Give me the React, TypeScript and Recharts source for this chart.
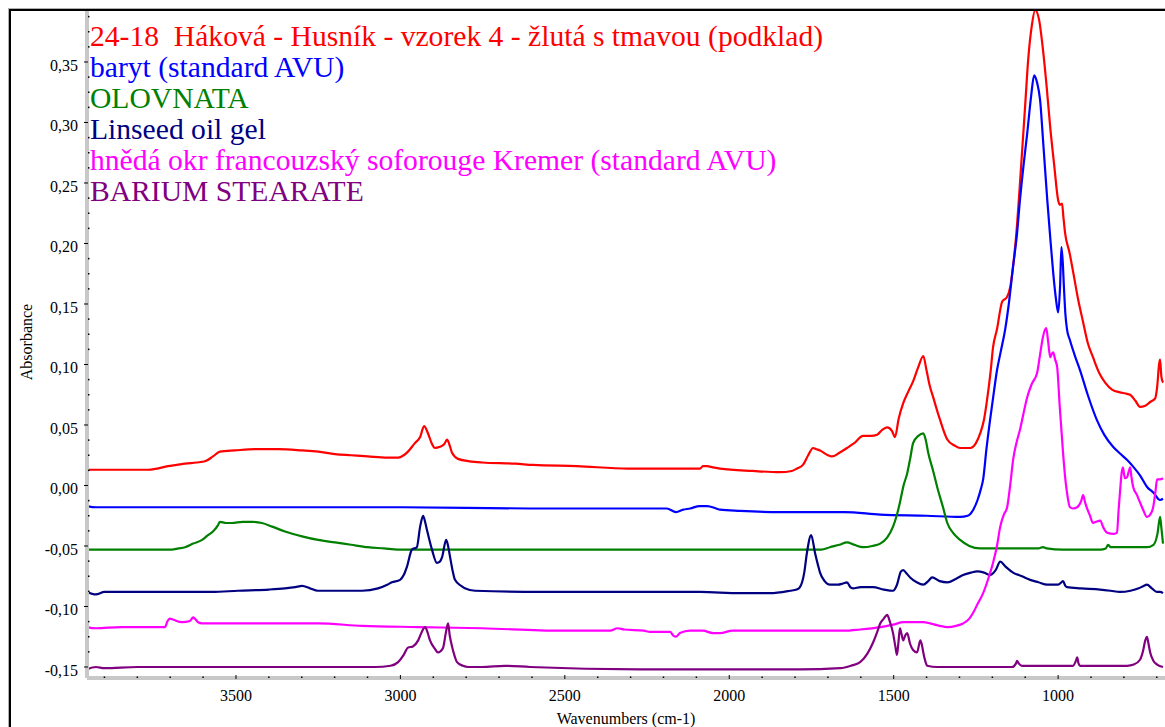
import React from "react";
import { LineChart, Line, XAxis, YAxis } from "recharts";

// [wavenumber (cm-1), absorbance]
const sample2418: [number, number][] = [
  [3953, 0.013], [3850, 0.013], [3768, 0.013], [3740, 0.014], [3707, 0.016], [3680, 0.017],
  [3655, 0.018], [3620, 0.019], [3594, 0.020], [3570, 0.024], [3549, 0.028], [3503, 0.029],
  [3442, 0.030], [3370, 0.030], [3299, 0.029], [3250, 0.028], [3199, 0.026], [3150, 0.025],
  [3099, 0.024], [3040, 0.023], [3007, 0.023], [2990, 0.025], [2977, 0.028], [2956, 0.035],
  [2940, 0.040], [2928, 0.049], [2916, 0.043], [2905, 0.035], [2895, 0.031], [2880, 0.032],
  [2867, 0.034], [2858, 0.038], [2850, 0.033], [2843, 0.027], [2825, 0.022], [2790, 0.020],
  [2752, 0.019], [2650, 0.018], [2597, 0.017], [2463, 0.016], [2308, 0.014], [2150, 0.014],
  [2089, 0.014], [2080, 0.016], [2067, 0.016], [2050, 0.015], [2028, 0.014], [1928, 0.012],
  [1846, 0.011], [1810, 0.012], [1794, 0.014], [1776, 0.017], [1760, 0.025], [1745, 0.031],
  [1735, 0.030], [1724, 0.029], [1700, 0.025], [1688, 0.024], [1665, 0.027], [1642, 0.031],
  [1620, 0.035], [1593, 0.041], [1570, 0.041], [1550, 0.042], [1535, 0.046], [1520, 0.048],
  [1505, 0.045], [1496, 0.040], [1485, 0.055], [1471, 0.068], [1455, 0.078], [1441, 0.086],
  [1425, 0.098], [1410, 0.107], [1400, 0.095], [1390, 0.082], [1380, 0.073], [1360, 0.055],
  [1337, 0.038], [1315, 0.033], [1298, 0.031], [1267, 0.031], [1250, 0.035], [1237, 0.043],
  [1225, 0.055], [1216, 0.071], [1205, 0.095], [1198, 0.114], [1186, 0.129], [1170, 0.152],
  [1155, 0.156], [1145, 0.165], [1137, 0.181], [1125, 0.215], [1116, 0.250], [1100, 0.315],
  [1091, 0.352], [1080, 0.380], [1070, 0.393], [1058, 0.385], [1046, 0.360], [1035, 0.330],
  [1024, 0.296], [1012, 0.265], [1000, 0.236], [995, 0.232], [988, 0.233], [984, 0.222],
  [979, 0.209], [965, 0.192], [954, 0.176], [940, 0.155], [924, 0.135], [910, 0.118],
  [894, 0.106], [875, 0.093], [857, 0.085], [835, 0.079], [812, 0.077], [795, 0.076],
  [781, 0.075], [765, 0.070], [751, 0.065], [735, 0.066], [720, 0.069], [705, 0.072],
  [699, 0.081], [693, 0.100], [690, 0.104], [686, 0.090], [681, 0.085],
];

const barytAVU: [number, number][] = [
  [3953, -0.017], [3926, -0.018], [3700, -0.018], [3400, -0.018], [3000, -0.018], [2600, -0.019],
  [2393, -0.019], [2241, -0.019], [2190, -0.019], [2162, -0.022], [2140, -0.020], [2119, -0.019],
  [2090, -0.017], [2067, -0.017], [2040, -0.019], [2028, -0.020], [1967, -0.021], [1846, -0.022],
  [1785, -0.022], [1650, -0.022], [1541, -0.024], [1400, -0.025], [1298, -0.026], [1275, -0.025],
  [1258, -0.020], [1245, -0.012], [1235, -0.003], [1228, 0.005], [1218, 0.030], [1207, 0.054],
  [1195, 0.078], [1186, 0.095], [1175, 0.110], [1161, 0.129], [1150, 0.150], [1137, 0.181],
  [1125, 0.208], [1116, 0.236], [1105, 0.265], [1094, 0.291], [1082, 0.322], [1073, 0.339],
  [1064, 0.333], [1055, 0.319], [1045, 0.282], [1033, 0.236], [1024, 0.205], [1015, 0.176],
  [1007, 0.155], [1000, 0.143], [994, 0.165], [990, 0.197], [986, 0.185], [982, 0.162],
  [978, 0.142], [973, 0.129], [964, 0.120], [950, 0.108], [933, 0.095], [910, 0.075],
  [882, 0.054], [860, 0.042], [833, 0.032], [810, 0.026], [790, 0.021], [770, 0.015],
  [750, 0.008], [730, -0.001], [710, -0.006], [690, -0.012], [681, -0.011],
];

const olovnata: [number, number][] = [
  [3953, -0.053], [3695, -0.053], [3675, -0.052], [3655, -0.051], [3630, -0.048], [3603, -0.045],
  [3585, -0.041], [3570, -0.038], [3555, -0.033], [3549, -0.030], [3530, -0.031], [3512, -0.031],
  [3480, -0.030], [3451, -0.030], [3421, -0.031], [3390, -0.034], [3351, -0.038], [3299, -0.042],
  [3250, -0.045], [3199, -0.047], [3150, -0.049], [3099, -0.051], [3050, -0.052], [3007, -0.053],
  [1846, -0.053], [1720, -0.053], [1694, -0.051], [1665, -0.049], [1642, -0.047], [1620, -0.049],
  [1593, -0.051], [1565, -0.050], [1541, -0.048], [1520, -0.043], [1502, -0.034], [1490, -0.024],
  [1481, -0.014], [1470, 0.000], [1459, 0.010], [1450, 0.022], [1441, 0.035], [1425, 0.041],
  [1410, 0.043], [1402, 0.037], [1395, 0.027], [1380, 0.012], [1368, -0.001], [1350, -0.018],
  [1337, -0.031], [1320, -0.039], [1298, -0.045], [1270, -0.050], [1237, -0.052], [1137, -0.052],
  [1060, -0.052], [1046, -0.051], [1035, -0.052], [985, -0.053], [872, -0.053], [855, -0.052],
  [848, -0.049], [840, -0.051], [760, -0.051], [730, -0.051], [710, -0.049], [698, -0.040],
  [690, -0.026], [686, -0.035], [681, -0.048],
];

const linseedOilGel: [number, number][] = [
  [3953, -0.088], [3926, -0.090], [3900, -0.088], [3573, -0.088], [3494, -0.087], [3400, -0.086],
  [3351, -0.085], [3320, -0.084], [3299, -0.083], [3275, -0.085], [3251, -0.087], [3117, -0.087],
  [3068, -0.085], [3040, -0.082], [3026, -0.080], [3001, -0.078], [2990, -0.074], [2980, -0.067],
  [2965, -0.053], [2950, -0.051], [2940, -0.034], [2931, -0.025], [2925, -0.030], [2919, -0.037],
  [2904, -0.053], [2889, -0.064], [2880, -0.063], [2873, -0.059], [2861, -0.045], [2855, -0.050],
  [2849, -0.059], [2840, -0.072], [2834, -0.078], [2815, -0.083], [2804, -0.085], [2773, -0.087],
  [2575, -0.088], [2089, -0.088], [1967, -0.089], [1876, -0.089], [1815, -0.087], [1795, -0.086],
  [1785, -0.084], [1772, -0.072], [1764, -0.056], [1751, -0.041], [1739, -0.056], [1730, -0.066],
  [1724, -0.072], [1710, -0.079], [1694, -0.082], [1670, -0.082], [1654, -0.081], [1642, -0.080],
  [1632, -0.084], [1624, -0.085], [1600, -0.084], [1563, -0.084], [1530, -0.086], [1502, -0.087],
  [1490, -0.082], [1478, -0.071], [1471, -0.070], [1460, -0.073], [1450, -0.076], [1430, -0.080],
  [1410, -0.082], [1395, -0.079], [1383, -0.076], [1360, -0.079], [1337, -0.080], [1310, -0.077],
  [1289, -0.074], [1265, -0.072], [1246, -0.071], [1225, -0.072], [1207, -0.074], [1190, -0.070],
  [1176, -0.063], [1160, -0.067], [1137, -0.072], [1110, -0.075], [1085, -0.078], [1060, -0.080],
  [1033, -0.082], [1000, -0.082], [990, -0.080], [985, -0.079], [978, -0.083], [973, -0.084],
  [930, -0.085], [872, -0.086], [840, -0.087], [812, -0.088], [780, -0.087], [755, -0.085],
  [740, -0.083], [730, -0.082], [715, -0.085], [700, -0.088], [690, -0.088], [681, -0.089],
];

const hnedaOkr: [number, number][] = [
  [3953, -0.117], [3926, -0.118], [3850, -0.117], [3716, -0.117], [3708, -0.112], [3701, -0.110],
  [3690, -0.111], [3664, -0.113], [3640, -0.112], [3630, -0.109], [3625, -0.110], [3615, -0.113],
  [3603, -0.114], [3555, -0.114], [3403, -0.114], [3251, -0.114], [3117, -0.116], [2946, -0.117],
  [2752, -0.118], [2515, -0.120], [2362, -0.120], [2340, -0.118], [2320, -0.119], [2260, -0.120],
  [2241, -0.121], [2180, -0.121], [2170, -0.124], [2162, -0.125], [2150, -0.122], [2119, -0.120],
  [2080, -0.120], [2050, -0.122], [2028, -0.122], [1990, -0.120], [1967, -0.120], [1785, -0.120],
  [1650, -0.120], [1602, -0.119], [1540, -0.117], [1502, -0.115], [1470, -0.113], [1441, -0.113],
  [1410, -0.113], [1389, -0.114], [1360, -0.116], [1337, -0.117], [1310, -0.116], [1289, -0.114],
  [1270, -0.110], [1258, -0.105], [1245, -0.098], [1228, -0.089], [1210, -0.075], [1198, -0.064],
  [1186, -0.050], [1176, -0.034], [1165, -0.024], [1155, -0.018], [1145, 0.002], [1137, 0.021],
  [1126, 0.036], [1116, 0.046], [1105, 0.060], [1094, 0.073], [1080, 0.084], [1064, 0.093],
  [1055, 0.108], [1046, 0.123], [1036, 0.130], [1030, 0.118], [1024, 0.106], [1019, 0.109],
  [1015, 0.110], [1009, 0.104], [1003, 0.098], [995, 0.065], [985, 0.027], [978, 0.005],
  [973, -0.006], [964, -0.018], [955, -0.019], [942, -0.018], [930, -0.013], [924, -0.008],
  [918, -0.014], [912, -0.019], [903, -0.025], [894, -0.031], [885, -0.030], [872, -0.029],
  [862, -0.035], [851, -0.039], [830, -0.040], [821, -0.039], [816, -0.020], [812, -0.006],
  [807, 0.010], [803, 0.015], [797, 0.006], [790, 0.007], [785, 0.012], [781, 0.015],
  [777, 0.007], [772, -0.001], [760, -0.008], [751, -0.014], [740, -0.021], [730, -0.026],
  [720, -0.024], [711, -0.018], [704, -0.005], [699, 0.005], [690, 0.005], [681, 0.006],
];

const bariumStearate: [number, number][] = [
  [3953, -0.152], [3926, -0.150], [3900, -0.151], [3800, -0.150], [3077, -0.150], [3030, -0.149],
  [3007, -0.146], [2990, -0.140], [2977, -0.134], [2962, -0.133], [2946, -0.128], [2935, -0.121],
  [2925, -0.117], [2918, -0.121], [2910, -0.128], [2895, -0.135], [2886, -0.138], [2878, -0.137],
  [2870, -0.134], [2862, -0.122], [2855, -0.114], [2850, -0.124], [2843, -0.133], [2835, -0.141],
  [2828, -0.146], [2810, -0.149], [2794, -0.150], [2752, -0.150], [2682, -0.149], [2606, -0.150],
  [2271, -0.152], [1785, -0.152], [1663, -0.151], [1630, -0.149], [1602, -0.146], [1580, -0.139],
  [1563, -0.130], [1550, -0.121], [1541, -0.114], [1530, -0.110], [1520, -0.107], [1511, -0.113],
  [1502, -0.122], [1495, -0.133], [1490, -0.140], [1485, -0.128], [1481, -0.118], [1476, -0.123],
  [1471, -0.128], [1465, -0.124], [1459, -0.122], [1450, -0.131], [1441, -0.136], [1429, -0.138],
  [1419, -0.128], [1414, -0.132], [1410, -0.138], [1404, -0.145], [1398, -0.149], [1368, -0.150],
  [1140, -0.150], [1128, -0.147], [1125, -0.145], [1120, -0.147], [1110, -0.149], [955, -0.149],
  [946, -0.145], [942, -0.142], [938, -0.147], [933, -0.149], [790, -0.149], [770, -0.148],
  [751, -0.144], [742, -0.137], [735, -0.128], [730, -0.125], [725, -0.131], [720, -0.138],
  [710, -0.145], [699, -0.148], [681, -0.150],
];

const seriesNames = [
  "24-18  Háková - Husník - vzorek 4 - žlutá s tmavou (podklad)",
  "baryt (standard AVU)",
  "OLOVNATA",
  "Linseed oil gel",
  "hnědá okr francouzský soforouge Kremer (standard AVU)",
  "BARIUM STEARATE",
];
const seriesData = [sample2418, barytAVU, olovnata, linseedOilGel, hnedaOkr, bariumStearate];
const seriesColors = ["#ff0000", "#0000ff", "#008000", "#000080", "#ff00ff", "#800080"];

const xMajorTicks = [3500, 3000, 2500, 2000, 1500, 1000];
const xMinorTicks: number[] = [];
for (let w = 700; w <= 3900; w += 100) xMinorTicks.push(w);
const yMajorTicks = [-0.15, -0.1, -0.05, 0, 0.05, 0.1, 0.15, 0.2, 0.25, 0.3, 0.35];
const yAllTicks: number[] = [];
for (let i = -12; i <= 31; i++) yAllTicks.push(Math.round(i * 125) / 10000);

const xDomain = [675, 3953];
const yDomain = [-0.1591, 0.3938];

const FONT = "'Liberation Serif', 'Times New Roman', serif";

const fmtY = (v: number) => v.toFixed(2).replace(".", ",");

const XTick = (props: any) => {
  const { x, y, payload } = props;
  const v = payload.value;
  const major = xMajorTicks.includes(v);
  if (major) {
    return (
      <g>
        <line x1={x} x2={x} y1={y - 3} y2={y + 1} stroke="#000" strokeWidth={1} />
        <text
          x={x}
          y={y + 23}
          textAnchor="middle"
          fontFamily={FONT}
          style={{ fontFamily: FONT }}
          fontSize={16}
          fill="#000"
        >
          {v}
        </text>
      </g>
    );
  }
  return <rect x={x - 0.75} y={y - 1.5} width={1.5} height={1.5} fill="#000" />;
};

const YTick = (props: any) => {
  const { x, y, payload } = props;
  const v = payload.value;
  const major = yMajorTicks.some((m) => Math.abs(m - v) < 1e-6);
  if (major) {
    return (
      <g>
        <line x1={x - 3} x2={x + 1} y1={y} y2={y} stroke="#000" strokeWidth={1} />
        <text
          x={x - 9}
          y={y + 9}
          textAnchor="end"
          fontFamily={FONT}
          style={{ fontFamily: FONT }}
          fontSize={16}
          fill="#000"
        >
          {fmtY(v)}
        </text>
      </g>
    );
  }
  return <rect x={x + 1} y={y - 0.75} width={1.5} height={1.5} fill="#000" />;
};

export default function App() {
  return (
    <div
      style={{
        position: "fixed",
        left: 0,
        top: 0,
        width: 1165,
        height: 727,
        overflow: "hidden",
        background: "#fff",
        fontFamily: FONT,
      }}
    >
      <LineChart
        width={1165}
        height={727}
        margin={{ top: 9, right: 0, bottom: 0, left: 0 }}
        style={{ fontFamily: FONT }}
      >
        <XAxis
          type="number"
          dataKey="w"
          domain={xDomain}
          reversed
          allowDataOverflow
          ticks={xMinorTicks}
          interval={0}
          height={49}
          tickLine={false}
          tickSize={0}
          tickMargin={0}
          axisLine={{ stroke: "#c8c8c8", strokeWidth: 4 }}
          tick={<XTick />}
        />
        <YAxis
          type="number"
          domain={yDomain}
          allowDataOverflow
          ticks={yAllTicks}
          interval={0}
          width={87}
          tickLine={false}
          tickSize={0}
          tickMargin={0}
          axisLine={{ stroke: "#c8c8c8", strokeWidth: 4 }}
          tick={<YTick />}
        />
        {seriesData.map((d, i) => (
          <Line
            key={seriesNames[i]}
            data={d.map(([w, a]) => ({ w, a }))}
            dataKey="a"
            type="monotoneX"
            stroke={seriesColors[i]}
            strokeWidth={2.2}
            dot={false}
            isAnimationActive={false}
          />
        ))}
      </LineChart>
      <svg
        width={1165}
        height={727}
        style={{ position: "absolute", left: 0, top: 0, pointerEvents: "none" }}
      >
        <rect x={8} y={8} width={1157} height={1} fill="#b0b0b0" />
        <rect x={8} y={8} width={1} height={719} fill="#b0b0b0" />
        <rect x={9} y={9} width={1156} height={2} fill="#000" />
        <rect x={9} y={9} width={2} height={718} fill="#000" />
        {seriesNames.map((n, i) => (
          <text
            key={n}
            x={90}
            y={46 + i * 31}
            fontFamily={FONT}
            fontSize={29.6}
            fill={seriesColors[i]}
            style={{ whiteSpace: "pre", fontFamily: FONT }}
          >
            {n}
          </text>
        ))}
        <text
          x={626}
          y={724}
          textAnchor="middle"
          fontFamily={FONT}
          style={{ fontFamily: FONT }}
          fontSize={16}
          fill="#000"
        >
          Wavenumbers (cm-1)
        </text>
        <text
          transform="translate(32,342) rotate(-90)"
          textAnchor="middle"
          fontFamily={FONT}
          style={{ fontFamily: FONT }}
          fontSize={16}
          fill="#000"
        >
          Absorbance
        </text>
      </svg>
    </div>
  );
}
